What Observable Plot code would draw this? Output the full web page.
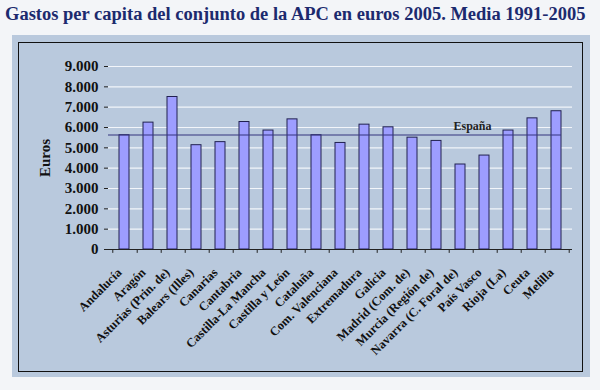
<!DOCTYPE html>
<html>
<head>
<meta charset="utf-8">
<script src="https://cdn.jsdelivr.net/npm/d3@7"></script>
<script src="https://cdn.jsdelivr.net/npm/@observablehq/plot@0.6"></script>
<style>
  body { margin: 0; background: #f3f5f8; width: 600px; height: 390px; overflow: hidden; position: relative; font-family: "Liberation Serif", "DejaVu Serif", serif; }
  #title { position: absolute; left: 5px; top: 4px; font-size: 18.5px; font-weight: bold; color: #1c2a6e; white-space: nowrap; }
  #panel { position: absolute; left: 12px; top: 35px; width: 578px; height: 342px; background: #b9c9dd; }
  #frame { position: absolute; left: 18px; top: 42px; width: 563px; height: 328px; border: 1.5px solid #111; }
  #chart { position: absolute; left: 0; top: 0; }
</style>
</head>
<body>
<div id="title">Gastos per capita del conjunto de la APC en euros 2005. Media 1991-2005</div>
<div id="panel"></div>
<div id="frame"></div>
<div id="chart"></div>
<script>
const regiones = ["Andalucía", "Aragón", "Asturias (Prin. de)", "Balears (Illes)", "Canarias", "Cantabria",
  "Castilla-La Mancha", "Castilla y León", "Cataluña", "Com. Valenciana", "Extremadura", "Galicia",
  "Madrid (Com. de)", "Murcia (Región de)", "Navarra (C. Foral de)", "País Vasco", "Rioja (La)", "Ceuta", "Melilla"];
const gasto = [5620, 6240, 7500, 5130, 5280, 6270, 5850, 6400, 5620, 5240, 6140,
  6010, 5500, 5340, 4180, 4620, 5850, 6450, 6800];
const espana = 5630;
const yTicks = [0, 1000, 2000, 3000, 4000, 5000, 6000, 7000, 8000, 9000];

const data = regiones.map((r, i) => ({region: r, gasto: gasto[i]}));
const fmt = d => d3.format(",")(d).replace(/,/g, ".");
const step = (572 - 108) / regiones.length;

const chart = Plot.plot({
  width: 600,
  height: 390,
  marginLeft: 108,
  marginRight: 28,
  marginTop: 66,
  marginBottom: 141,
  style: {background: "transparent", fontFamily: "Liberation Serif, serif"},
  x: {domain: regiones, paddingInner: 0.59, paddingOuter: 0.295, axis: null},
  y: {domain: [0, 9000], axis: null},
  marks: [
    Plot.gridY(yTicks.filter(d => d > 0), {stroke: "#f2f5fa", strokeOpacity: 1, strokeWidth: 1.2}),
    Plot.barY(data, {x: "region", y: "gasto", fill: "#9d9dff", stroke: "#202050", strokeWidth: 1}),
    Plot.ruleY([espana], {y: d => d, x1: null, x2: () => regiones[regiones.length - 1], stroke: "#34347e", strokeWidth: 1.2}),
    Plot.text(["España"], {x: () => "Navarra (C. Foral de)", y: () => espana, dx: 12, dy: -9, text: d => d,
      fontSize: 12, fontWeight: "bold", fill: "#222", letterSpacing: "0.5px"}),
    Plot.ruleX([0], {stroke: "#222", strokeWidth: 1}),
    Plot.axisY({ticks: yTicks, tickFormat: fmt, tickSize: 4, tickPadding: 6, fontSize: 15,
      fontWeight: "bold", fill: "#111", stroke: "#222",
      label: "Euros", labelAnchor: "center", labelArrow: "none", labelOffset: 69}),
    Plot.ruleY([0], {stroke: "#222", strokeWidth: 1}),
    Plot.ruleX(regiones, {x: d => d, y1: 0, y2: -190, dx: step / 2 + 0.5, stroke: "#222"}),
    Plot.ruleX(regiones.slice(0, 1), {x: d => d, y1: 0, y2: -190, dx: -step / 2 + 0.5, stroke: "#222"}),
    Plot.text(regiones, {x: d => d, y: 0, text: d => d, rotate: -45, textAnchor: "end",
      lineAnchor: "middle", dx: -5, dy: 21, fontSize: 12.5, fontWeight: "bold", fill: "#111"})
  ]
});
chart.querySelectorAll("[aria-label='y-axis label'] text, [aria-label='y-axis label']").forEach(el => {
  el.setAttribute("font-size", "15"); el.setAttribute("font-weight", "bold");
});
document.getElementById("chart").append(chart);
</script>
</body>
</html>
